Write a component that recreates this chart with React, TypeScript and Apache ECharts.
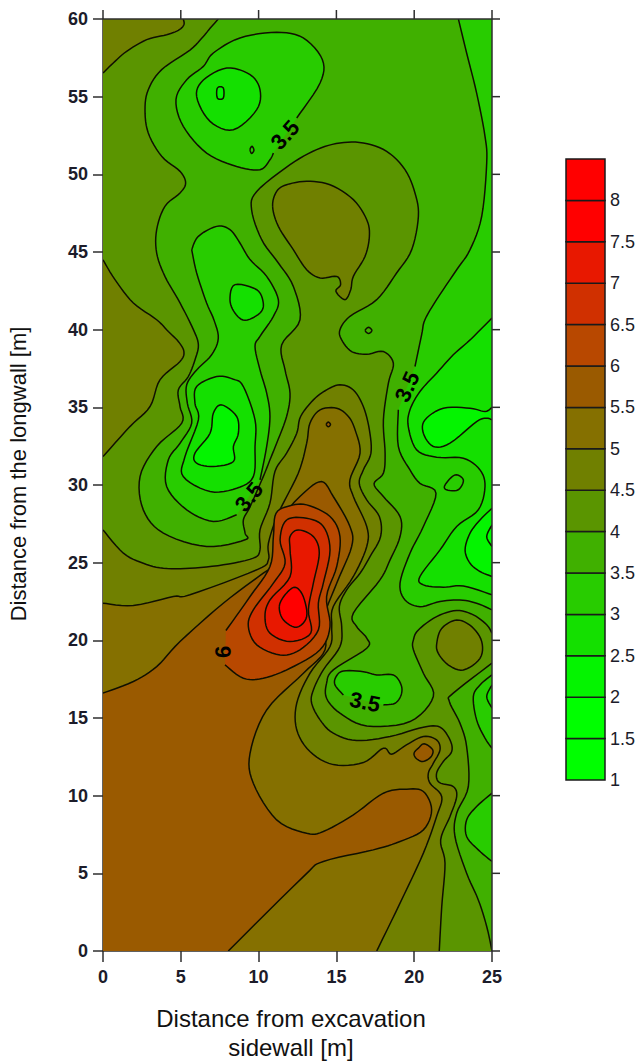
import React, { useEffect, useRef } from "react";
import * as echarts from "echarts";

type Pt = [number, number];

const xTicks = [0, 5, 10, 15, 20, 25];
const yTicks = [0, 5, 10, 15, 20, 25, 30, 35, 40, 45, 50, 55, 60];
const legendLevels = [1, 1.5, 2, 2.5, 3, 3.5, 4, 4.5, 5, 5.5, 6, 6.5, 7, 7.5, 8, 8.5];
const legendColors = ["#00ff00", "#00ff00", "#04f400", "#14e000", "#28cc00", "#40b000", "#5a9500", "#708000", "#857000", "#9a5a00", "#b84800", "#d03000", "#e81800", "#ff0000", "#ff0000"];

const BAND: Record<string, string> = { b15: "#00ff00", b2: "#04f400", b25: "#14e000", b3: "#28cc00", b35: "#40b000", b4: "#5a9500", b45: "#708000", b5: "#857000", b55: "#9a5a00", b6: "#b84800", b65: "#d03000", b7: "#e81800", b75: "#ff0000" };

// contour lines: [distance from sidewall m, distance from longwall m]
const level4West: Pt[] = [[7.41,60],[6.88,59.4],[6.45,58.88],[5.59,58],[3.77,56.74],[2.91,55.45],[2.7,54.16],[2.91,52.66],[3.77,51.16],[4.95,50.19],[5.31,49.44],[4.95,48.8],[3.98,47.94],[3.45,46.44],[3.45,44.93],[3.98,43.43],[4.95,41.72],[5.81,40],[6.13,39.02],[5.91,38.05],[5.48,36.98],[4.84,36.12],[4.95,35.05],[5.06,33.98],[3.45,32.48],[2.38,30.54],[2.59,28.4],[3.88,26.9],[6.66,26.04],[9.13,26.47],[9.13,26.9],[9.02,27.75],[9.45,28.6],[10.3,30.54],[10.73,31.62],[11.16,32.69],[11.8,34.41],[12.02,35.9],[11.7,37.41],[11.48,39.02],[12.66,40.63],[12.23,42.79],[11.27,44.29],[10.2,45.79],[9.55,47.72],[9.88,48.9],[12.02,50.62],[13.73,51.59],[15.23,52.02],[16.73,52.02],[18.23,51.48],[19.41,50.3],[20.05,48.8],[20.27,47.3],[19.84,45.15],[18.87,43.65],[17.59,41.93],[15.87,40.86],[15.23,40],[15.34,39.34],[15.98,38.59],[16.95,38.42],[18.02,38.59],[18.66,37.84],[18.34,36.55],[18.02,34.19],[18.13,32.05],[18.02,30.76],[17.42,30.07],[18.02,29.26],[19.09,27.97],[19.09,26.68],[18.45,25.18],[17.8,23.89],[16.09,21.75],[16.3,20.89],[16.95,20.14],[16.95,19.49],[14.8,18.1],[14.37,17.24],[14.37,16.27],[15.23,15.31],[16.95,14.49],[19.73,14.77],[21.23,16.38],[20.59,17.88],[19.95,19.39],[19.95,20.03],[20.27,20.67],[21.44,21.53],[22.73,21.92],[23.8,21.64],[24.66,21],[25,20.46]];
const level4East: Pt[] = [[25,18.53],[22.51,16.6],[22.26,16.06],[22.94,14.67],[23.37,13.16],[23.48,10.59],[22.73,8.87],[22.62,7.37],[23.37,5.01],[24.12,3.29],[24.66,1.58],[25,0]];

const level45Corner: Pt[] = [[5.16,60],[5.2,59.63],[4.84,59.27],[4.09,58.99],[2.81,58.67],[1.52,57.92],[0.66,57.17],[0,56.52]];
const level45West: Pt[] = [[0,44.5],[0.77,43.22],[1.95,41.72],[3.45,40.64],[4.2,39.88],[4.84,39.24],[5.2,38.59],[4.95,37.95],[3.66,36.77],[3.02,35.05],[1.73,33.76],[0,31.83]];
const level45Main: Pt[] = [[0,27.11],[1.31,25.61],[2.59,24.96],[3.88,24.64],[5.59,24.64],[7.73,24.86],[9.66,25.29],[10.09,25.82],[10.09,27.11],[10.73,28.83],[11.05,30.87],[11.8,32.05],[12.45,33.33],[12.7,34.41],[13.52,35.48],[14.37,36.12],[15.23,36.45],[16.09,36.12],[16.73,35.05],[17.12,33.55],[17.22,32.05],[16.73,30.97],[16.47,30.1],[16.95,29.04],[17.76,27.97],[17.84,26.68],[17.16,25.39],[16.52,24.32],[15.66,23.25],[15.19,22.18],[15.34,20.89],[15.23,19.6],[14.16,18.1],[13.52,16.81],[13.41,15.95],[13.95,14.88],[14.8,14.02],[16.3,13.55],[18.45,13.81],[20.59,14.41],[21.66,14.41],[22.3,13.59],[22.41,12.84],[21.87,12.2],[21.44,11.45],[21.61,10.85],[22.51,10.59],[22.73,9.94],[22.3,8.66],[21.7,7.15],[21.98,5.65],[21.77,2.86],[21.61,0]];
const level45Hill: Pt[] = [[21.45,19.81],[21.77,20.77],[22.73,21.31],[23.7,20.88],[24.34,19.92],[24.23,18.84],[23.16,18.09],[22.2,18.41],[21.55,19.16]];
const level45North: Pt[] = [[10.9,47.94],[11.16,48.9],[11.8,49.33],[13.09,49.55],[14.59,49.33],[16.09,48.37],[16.95,47.08],[17.12,46.01],[16.84,44.72],[16.09,43.43],[15.92,42.57],[15.55,41.93],[14.97,42.47],[15.27,42.9],[15.02,43.43],[13.95,43.33],[13.09,43.86],[12.23,45.15],[11.27,46.65]];

const level5Main: Pt[] = [[0,22.39],[1.95,22.24],[4.52,22.82],[5.59,22.93],[9.88,24.54],[10.63,25.18],[10.63,26.25],[11.27,28.18],[12.55,30.76],[13.09,32.69],[13.3,33.98],[13.95,34.84],[15.02,34.94],[15.77,34.41],[16.2,33.55],[16.52,32.05],[15.87,30.33],[16.09,29.26],[16.95,27.33],[16.95,26.04],[16.09,24.11],[14.8,22.18],[14.7,20.89],[14.59,19.6],[13.3,17.88],[12.45,15.95],[12.45,14.24],[13.3,12.84],[14.8,12],[16.73,12.13],[18.02,13.06],[18.55,12.67],[19.5,13.27],[20.59,13.81],[21.44,13.59],[21.66,12.95],[21.23,12.09],[20.91,11.45],[21.02,10.8],[21.77,9.94],[21.44,8.66],[20.59,6.3],[19.09,3.08],[17.59,0]];

const level55Main: Pt[] = [[0,16.6],[1.95,17.35],[3.45,18.31],[4.95,19.92],[7.73,22.39],[10.3,24.32],[11.16,24.96],[11.27,26.25],[11.8,28.18],[12.88,29.47],[14.05,30.22],[14.8,29.26],[15.87,27.33],[15.98,26.04],[15.02,23.68],[14.16,21.31],[14.27,19.39],[12.88,17.88],[10.52,15.52],[9.45,12.73],[9.66,10.8],[11.16,8.44],[13.09,7.58],[14.16,7.69],[16.09,8.77],[18.02,10.16],[19.52,10.42],[20.59,10.27],[21.12,9.09],[20.59,7.8],[19.09,7.05],[17.37,6.51],[14.16,5.76],[12.88,4.79],[8.05,0]];
const level55Dot: Pt[] = [[14.35,33.9],[14.48,34.05],[14.62,33.9],[14.48,33.75]];
const level55Hex: Pt[] = [[19.99,12.74],[20.27,13.06],[20.65,13.34],[21.19,12.95],[21.06,12.48],[20.54,12.2],[20.12,12.41]];

const level6Main: Pt[] = [[7.9,20.63],[9.45,22.82],[10.73,24.75],[10.95,26.68],[11.12,28.18],[12.02,28.66],[13.09,28.72],[14.59,27.97],[15.23,26.68],[15.02,24.75],[14.37,22.82],[14.59,20.89],[13.95,19.39],[12.02,18.2],[10.3,17.56],[9.02,17.56],[7.84,18.42]];
const level65Main: Pt[] = [[11.8,27.75],[13.09,27.86],[14.16,27.33],[14.59,25.82],[14.16,23.68],[13.84,22.39],[13.84,20.67],[12.66,19.39],[11.38,19.06],[9.88,19.71],[9.34,20.89],[9.66,21.96],[10.95,23.68],[11.7,24.96],[11.38,26.47]];
const level7Main: Pt[] = [[12.02,26.68],[12.55,27.11],[13.52,26.68],[13.9,25.61],[13.52,23.68],[13.2,21.96],[13.35,20.46],[12.02,19.92],[10.73,20.46],[10.41,21.53],[10.73,22.6],[12.02,24.1],[12.02,25.82]];
const level75Main: Pt[] = [[11.33,22.18],[11.7,22.93],[12.34,23.42],[12.87,22.82],[13.09,21.53],[12.45,20.84],[11.59,21.32]];

const level35EastA: Pt[] = [[22.84,60],[23.37,57.81],[24.01,55.24],[24.55,52.45],[24.66,50.73],[24.34,47.3],[23.59,45.15],[22.73,43.86],[21.44,41.93],[20.69,40.64],[20.48,39.68],[20.05,37.63]];
const level35EastB: Pt[] = [[18.98,34.84],[18.98,32.48],[19.73,30.97],[20.37,30.11],[21.4,29.47],[20.59,27.33],[19.73,25.61],[19.09,23.68],[19.41,22.6],[20.37,22.17],[21.66,22.5],[22.94,22.6],[24.01,22.39],[25,21.96]];
const level3East: Pt[] = [[25,40.75],[23.59,39.34],[22.51,38.38],[21.44,37.2],[20.37,36.02],[19.73,34.84],[19.62,33.76],[20.16,32.26],[21.44,31.79],[23.16,31.72],[24.23,30.97],[24.55,29.9],[24.12,28.4],[22.73,27.33],[21.66,25.82],[20.37,24.11],[20.59,23.57],[21.87,23.42],[23.16,23.5],[25,22.93]];
const level25EastUpper: Pt[] = [[25,35],[24.55,34.73],[23.59,34.94],[21.87,34.94],[20.69,34.19],[20.59,33.33],[21.23,32.48],[22.3,32.69],[24.01,34.08],[24.66,34.3],[25,34.19]];
const level25EastLower: Pt[] = [[25,28.5],[24.23,27.75],[23.59,26.9],[23.27,25.82],[23.59,24.96],[24.23,24.43],[25,24.11]];
const level2East: Pt[] = [[25,27.43],[24.66,26.68],[25,26.04]];
const level35Island: Pt[] = [[21.98,30],[22.62,30.65],[23.16,30.33],[22.83,29.69],[22.08,29.69]];
const level35Lower: Pt[] = [[18.02,15.84],[18.77,15.95],[19.16,16.48],[19.16,17.13],[18.66,17.77],[17.59,17.77],[16.73,17.98],[15.45,18.03],[14.98,17.66],[14.91,17.13],[15.45,16.48]];
const level35RimA: Pt[] = [[25,17.78],[24.23,17.13],[23.8,16.38],[24.01,14.88],[24.55,13.7],[25,13.05]];
const level3RimA: Pt[] = [[25,17.13],[24.66,16.38],[25,15.63]];
const level35RimB: Pt[] = [[25,10.16],[24.01,9.3],[23.37,8.44],[23.37,7.37],[24.12,6.51],[25,5.76]];
const level35Top: Pt[] = [[12.45,53.63],[13.95,55.88],[14.1,57.38],[12.87,58.78],[11.16,59.14],[8.8,58.78],[7.09,57.81],[6.45,56.95],[5.38,56.09],[4.69,54.81],[5.16,53.09],[6.66,51.37],[8.59,50.51],[10.09,50.3],[10.73,50.94],[10.95,51.37]];
const level3Top: Pt[] = [[6.02,55],[6.45,56.07],[7.95,56.84],[9.45,56.42],[10.09,55.45],[9.88,54.16],[8.38,52.87],[6.88,53.41]];
const level25Top: Pt[] = [[7.35,55.56],[7.73,55.56],[7.73,54.91],[7.35,54.91]];
const level35Speck: Pt[] = [[9.45,51.6],[9.58,51.8],[9.7,51.55],[9.55,51.35]];
const level4Speck: Pt[] = [[16.85,39.95],[17.07,40.15],[17.28,39.95],[17.07,39.75]];
const level35MidA: Pt[] = [[5.7,45.15],[6.13,46.01],[7.3,46.65],[8.16,46.44],[8.8,45.58],[9.45,44.51],[10.52,43.43],[11.27,41.93],[10.95,40.86],[10.09,39.57],[9.77,38.91],[10.09,37.41],[10.52,35.91],[10.73,34.41],[10.52,32.48],[10.09,30.33]];
const level35MidB: Pt[] = [[8.59,28.08],[7.09,27.65],[5.38,28.4],[4.09,29.9],[4.2,31.62],[4.95,32.69],[5.7,33.98],[5.42,35.27],[5.38,36.45],[6.02,37.41],[6.98,38.38],[7.41,39.45],[7.13,40.63],[6.66,41.72],[6.02,43.65],[5.7,45.15]];
const level3Mid: Pt[] = [[7.3,36.98],[6.02,36.34],[5.91,35.27],[6.13,34.19],[5.27,31.83],[5.16,30.54],[6.88,29.58],[8.59,29.79],[9.66,30.54],[9.77,32.48],[9.77,34.19],[9.02,36.34],[8.38,36.81]];
const level25Mid: Pt[] = [[7.63,35.16],[8.59,34.41],[8.7,33.33],[8.38,32.48],[8.38,31.51],[7.09,31.19],[6.02,31.4],[5.91,32.05],[6.88,33.33],[7.09,34.62]];
const level3North: Pt[] = [[8.48,42.9],[9.88,42.57],[10.3,41.72],[10.09,41.07],[9.13,40.6],[8.48,41.07],[8.16,41.93]];

const contourLabels: { text: string; x: number; y: number; rot: number }[] = [
  { text: "3.5", x: 11.7, y: 52.54, rot: 0.85 },
  { text: "3.5", x: 19.54, y: 36.32, rot: 1.15 },
  { text: "3.5", x: 9.38, y: 29.23, rot: 0.9 },
  { text: "3.5", x: 16.84, y: 16.03, rot: -0.2 },
  { text: "6", x: 7.71, y: 19.25, rot: 1.57 },
];

type Region = { band: string; chains: Pt[][]; closed?: boolean };
const corner = (x: number, y: number): Pt[] => [[x, y]];

const regions: Region[] = [
  { band: "b35", chains: [corner(0, 0), corner(25, 0), corner(25, 60), corner(0, 60)] },
  { band: "b4", chains: [level4West, level4East, corner(0, 0), corner(0, 60)] },
  { band: "b45", chains: [level45Corner, corner(0, 60)] },
  { band: "b45", chains: [level45West] },
  { band: "b45", chains: [level45Main, corner(0, 0)] },
  { band: "b45", chains: [level45Hill], closed: true },
  { band: "b45", chains: [level45North], closed: true },
  { band: "b5", chains: [level5Main, corner(0, 0)] },
  { band: "b55", chains: [level55Main, corner(0, 0)] },
  { band: "b55", chains: [level55Dot], closed: true },
  { band: "b55", chains: [level55Hex], closed: true },
  { band: "b6", chains: [level6Main] },
  { band: "b65", chains: [level65Main], closed: true },
  { band: "b7", chains: [level7Main], closed: true },
  { band: "b75", chains: [level75Main], closed: true },
  { band: "b3", chains: [level35EastA, level35EastB, corner(25, 60)] },
  { band: "b25", chains: [level3East] },
  { band: "b2", chains: [level25EastUpper] },
  { band: "b2", chains: [level25EastLower] },
  { band: "b15", chains: [level2East] },
  { band: "b3", chains: [level35Island], closed: true },
  { band: "b3", chains: [level35Lower] },
  { band: "b3", chains: [level35RimA] },
  { band: "b25", chains: [level3RimA] },
  { band: "b3", chains: [level35RimB] },
  { band: "b3", chains: [level35Top] },
  { band: "b25", chains: [level3Top], closed: true },
  { band: "b2", chains: [level25Top], closed: true },
  { band: "b3", chains: [level35Speck], closed: true },
  { band: "b35", chains: [level4Speck], closed: true },
  { band: "b3", chains: [level35MidA, level35MidB] },
  { band: "b25", chains: [level3Mid], closed: true },
  { band: "b2", chains: [level25Mid], closed: true },
  { band: "b25", chains: [level3North], closed: true },
];

function spline(pts: Pt[], closed: boolean): Pt[] {
  const n = pts.length;
  if (n < 3) return pts;
  const at = (i: number) => (closed ? pts[(i + n) % n] : pts[Math.max(0, Math.min(n - 1, i))]);
  const out: Pt[] = [];
  const segs = closed ? n : n - 1;
  for (let i = 0; i < segs; i++) {
    const [p0, p1, p2, p3] = [at(i - 1), at(i), at(i + 1), at(i + 2)];
    for (let k = 0; k < 6; k++) {
      const t = k / 6;
      const t2 = t * t;
      const t3 = t2 * t;
      const f = (a: number, b: number, c: number, d: number) =>
        0.5 * (2 * b + (c - a) * t + (2 * a - 5 * b + 4 * c - d) * t2 + (3 * b - a - 3 * c + d) * t3);
      out.push([f(p0[0], p1[0], p2[0], p3[0]), f(p0[1], p1[1], p2[1], p3[1])]);
    }
  }
  out.push(closed ? pts[0] : pts[n - 1]);
  return out;
}

const FONT = '"Liberation Sans", Arial, sans-serif';
const AXIS = "#2e2e2e";

export default function App() {
  const ref = useRef<HTMLDivElement>(null);
  useEffect(() => {
    const chart = echarts.init(ref.current!, undefined, { renderer: "svg" });
    const tickLabel = { fontFamily: FONT, fontSize: 18, color: "#1c1c2a", fontWeight: "bold" };
    const axisLine = { show: true, lineStyle: { color: AXIS, width: 1.5 } };
    const tick = (length: number) => ({ show: true, length, lineStyle: { color: AXIS, width: 1.5 } });
    chart.setOption({
      animation: false,
      backgroundColor: "#ffffff",
      grid: [
        { left: 103, top: 19, width: 389, height: 932, outerBoundsMode: "none" },
        { left: 566, top: 159, width: 39, height: 621, outerBoundsMode: "none" },
      ],
      xAxis: [
        {
          type: "value", gridIndex: 0, min: 0, max: 25, interval: 5, position: "bottom",
          name: "Distance from excavation\nsidewall [m]", nameLocation: "middle", nameGap: 53,
          nameTextStyle: { fontFamily: FONT, fontSize: 24, color: "#111", lineHeight: 29, padding: [0, 13, 0, 0] },
          axisLine, axisTick: tick(11),
          axisLabel: { ...tickLabel, margin: 17, formatter: (v: number) => (xTicks.includes(v) ? String(v) : "") },
          splitLine: { show: false },
        },
        { type: "value", gridIndex: 1, min: 0, max: 1, show: false },
      ],
      yAxis: [
        {
          type: "value", gridIndex: 0, min: 0, max: 60, interval: 5, position: "left",
          name: "Distance from the longwall [m]", nameLocation: "middle", nameGap: 74,
          nameTextStyle: { fontFamily: FONT, fontSize: 22, color: "#111", padding: [0, 0, 0, 22] },
          axisLine, axisTick: tick(10),
          axisLabel: { ...tickLabel, margin: 15, formatter: (v: number) => (yTicks.includes(v) ? String(v) : "") },
          splitLine: { show: false },
        },
        {
          type: "value", gridIndex: 1, min: 1, max: 8.5, interval: 0.5, position: "right",
          axisLine: { show: false }, axisTick: { show: false }, splitLine: { show: false },
          axisLabel: { ...tickLabel, fontWeight: "normal", margin: 5, formatter: (v: number) => (v > 8 ? "" : String(v)) },
        },
      ],
      series: [
        {
          type: "custom", xAxisIndex: 0, yAxisIndex: 0, clip: true, silent: true,
          data: regions.map((_, i) => [i, 0]),
          renderItem: (params: any, api: any) => {
            const region = regions[params.dataIndex];
            const lines = region.chains.map((c) => spline(c, !!region.closed));
            const fillPts = lines.flat().map((p) => api.coord(p));
            const children: any[] = [
              { type: "polygon", shape: { points: fillPts }, style: { fill: BAND[region.band], stroke: "none" } },
            ];
            lines.forEach((line) => {
              if (line.length < 2) return;
              children.push({
                type: "polyline",
                shape: { points: line.map((p) => api.coord(p)) },
                style: { fill: "none", stroke: "#101000", lineWidth: 1.5 },
              });
            });
            return { type: "group", children };
          },
        },
        {
          // top and right frame lines with their outward ticks, taken from the same tick lists
          type: "custom", xAxisIndex: 0, yAxisIndex: 0, silent: true, z: 5,
          data: [[0, 0]],
          renderItem: (_params: any, api: any) => {
            const line = (a: number[], b: number[]) => ({
              type: "line",
              shape: { x1: a[0], y1: a[1], x2: b[0], y2: b[1] },
              style: { stroke: AXIS, lineWidth: 1.5 },
            });
            const tl = api.coord([0, 60]);
            const tr = api.coord([25, 60]);
            const br = api.coord([25, 0]);
            const children: any[] = [line(tl, tr), line(tr, br)];
            xTicks.forEach((v) => {
              const p = api.coord([v, 60]);
              children.push(line(p, [p[0], p[1] - 9]));
            });
            yTicks.forEach((v) => {
              const p = api.coord([25, v]);
              children.push(line(p, [p[0] + 8, p[1]]));
            });
            return { type: "group", children };
          },
        },
        {
          type: "custom", xAxisIndex: 0, yAxisIndex: 0, silent: true, z: 6,
          data: contourLabels.map((l) => [l.x, l.y]),
          renderItem: (params: any, api: any) => {
            const l = contourLabels[params.dataIndex];
            const [x, y] = api.coord([l.x, l.y]);
            return {
              type: "text", x, y, rotation: l.rot,
              style: { text: l.text, fontFamily: FONT, fontSize: 22, fontWeight: "bold", fill: "#000", align: "center", verticalAlign: "middle" },
            };
          },
        },
        {
          type: "custom", xAxisIndex: 1, yAxisIndex: 1, silent: true,
          data: legendColors.map((_, i) => [i]),
          renderItem: (params: any, api: any) => {
            const i = params.dataIndex;
            const a = api.coord([0, legendLevels[i]]);
            const b = api.coord([1, legendLevels[i + 1]]);
            return {
              type: "rect",
              shape: { x: a[0], y: b[1], width: b[0] - a[0], height: a[1] - b[1] },
              style: { fill: legendColors[i], stroke: "#1a1a1a", lineWidth: 1.5 },
            };
          },
        },
      ],
    });
    return () => chart.dispose();
  }, []);
  return <div ref={ref} style={{ position: "fixed", left: 0, top: 0, width: 643, height: 1061 }} />;
}
